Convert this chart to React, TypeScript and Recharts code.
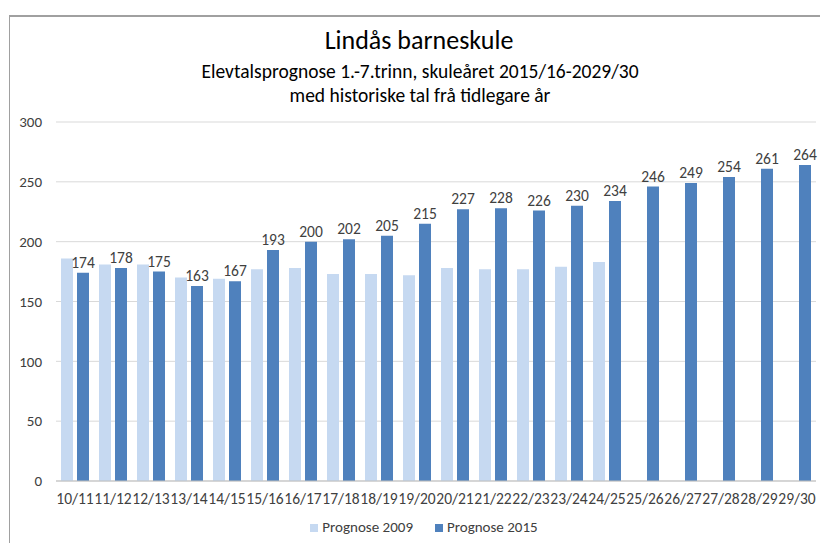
import React from "react";
import { BarChart, Bar, XAxis, YAxis, CartesianGrid, Legend, LabelList } from "recharts";

const categories = ["10/11","11/12","12/13","13/14","14/15","15/16","16/17","17/18","18/19","19/20","20/21","21/22","22/23","23/24","24/25","25/26","26/27","27/28","28/29","29/30"];
const prognose2009 = [186,181,181,170,169,177,178,173,173,172,178,177,177,179,183,null,null,null,null,null];
const prognose2015 = [174,178,175,163,167,193,200,202,205,215,227,228,226,230,234,246,249,254,261,264];
const yTicks = [0,50,100,150,200,250,300];

const data = categories.map((c, i) => ({ name: c, p2009: prognose2009[i], p2015: prognose2015[i] }));

const FONT = "Calibri, Carlito, Lato, sans-serif";

export default function App() {
  return (
    <div style={{ position: "absolute", left: 0, top: 0, width: 820, height: 543, background: "#fff", fontFamily: FONT, overflow: "hidden" }}>
      <div style={{ position: "absolute", left: 9, top: 15, width: 830, height: 560, borderLeft: "1px solid #A0A0A0", borderTop: "2px solid #A0A0A0" }} />
      <div style={{ position: "absolute", left: 0, width: 838, top: 24, textAlign: "center", fontSize: 26, color: "#000", lineHeight: "32px" }}>Lindås barneskule</div>
      <div style={{ position: "absolute", left: 0, width: 840, top: 59, textAlign: "center", fontSize: 19.5, color: "#000", lineHeight: "24px" }}>Elevtalsprognose 1.-7.trinn, skuleåret 2015/16-2029/30</div>
      <div style={{ position: "absolute", left: 0, width: 840, top: 83, textAlign: "center", fontSize: 19.5, color: "#000", lineHeight: "24px" }}>med historiske tal frå tidlegare år</div>
      <div style={{ position: "absolute", left: 0, top: 0 }}>
        <BarChart width={820} height={543} data={data} margin={{ top: 122, right: 4, left: 0, bottom: 8 }} barGap={4} barSize={12}>
          <CartesianGrid vertical={false} stroke="#D9D9D9" />
          <XAxis dataKey="name" interval={0} tickLine={false} stroke="#BFBFBF" height={30}
            tick={{ fill: "#404040", fontSize: 15.5, fontFamily: FONT }} tickMargin={6} />
          <YAxis domain={[0, 300]} ticks={yTicks} width={56} axisLine={false} tickLine={false}
            tick={{ fill: "#404040", fontSize: 15, fontFamily: FONT }} tickMargin={8} />
          <Legend iconType="square" iconSize={8} verticalAlign="bottom" height={24} wrapperStyle={{ bottom: 2, left: 27 }}
            formatter={(v) => <span style={{ color: "#404040", fontSize: 15, fontFamily: FONT, marginRight: 12 }}>{v}</span>} />
          <Bar dataKey="p2009" name="Prognose 2009" fill="#C6D9F1" isAnimationActive={false} />
          <Bar dataKey="p2015" name="Prognose 2015" fill="#4F81BD" isAnimationActive={false}>
            <LabelList dataKey="p2015" position="top" offset={5} fill="#404040" fontSize={15.5} fontFamily={FONT} />
          </Bar>
        </BarChart>
      </div>
    </div>
  );
}
